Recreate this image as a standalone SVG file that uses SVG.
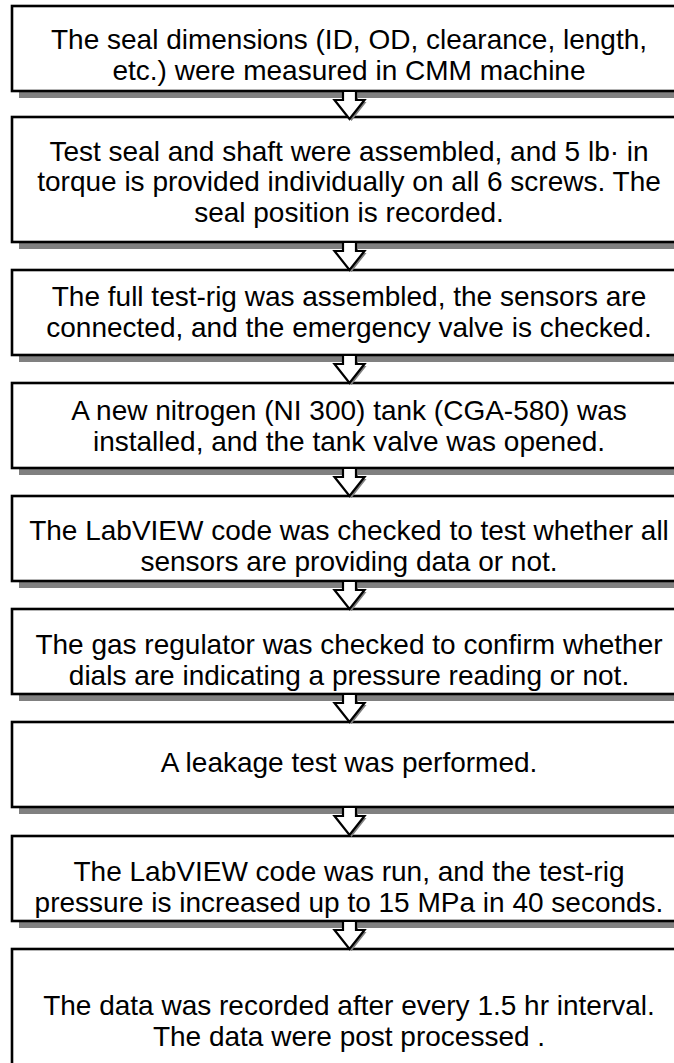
<svg xmlns="http://www.w3.org/2000/svg" width="674" height="1063" viewBox="0 0 674 1063">
  <defs>
    <style>
      .shadow { fill: #808080; }
      .box { fill: #ffffff; stroke: #000000; stroke-width: 2.6; }
      .arrow { fill: #ffffff; stroke: #000000; stroke-width: 2.2; stroke-linejoin: miter; }
      .arrow-shadow { fill: #808080; }
      text { font-family: "Liberation Sans", Arial, sans-serif; font-size: 28px; fill: #000000; text-anchor: middle; }
    </style>
    <!-- hollow down-pointing block arrow, origin at top-centre of shaft -->
    <path id="down" d="M -6.5 0 L 6.5 0 L 6.5 9 L 15 9 L 0 28 L -15 9 L -6.5 9 Z"/>
  </defs>
  <rect width="674" height="1063" fill="#ffffff"/>

  <g id="step1">
    <rect class="shadow" x="19" y="13" width="680" height="85"/>
    <rect class="box" x="12" y="6" width="680" height="85"/>
    <text x="349" y="49">The seal dimensions (ID, OD, clearance, length,</text>
    <text x="349" y="80">etc.) were measured in CMM machine</text>
  </g>

  <g id="step2">
    <rect class="shadow" x="19" y="124" width="680" height="125"/>
    <rect class="box" x="12" y="117" width="680" height="125"/>
    <text x="349" y="161">Test seal and shaft were assembled, and 5 lb· in</text>
    <text x="349" y="191">torque is provided individually on all 6 screws. The</text>
    <text x="349" y="222">seal position is recorded.</text>
  </g>

  <g id="step3">
    <rect class="shadow" x="19" y="277" width="680" height="85"/>
    <rect class="box" x="12" y="270" width="680" height="85"/>
    <text x="349" y="306">The full test-rig was assembled, the sensors are</text>
    <text x="349" y="337">connected, and the emergency valve is checked.</text>
  </g>

  <g id="step4">
    <rect class="shadow" x="19" y="390" width="680" height="85"/>
    <rect class="box" x="12" y="383" width="680" height="85"/>
    <text x="349" y="420">A new nitrogen (NI 300) tank (CGA-580) was</text>
    <text x="349" y="451">installed, and the tank valve was opened.</text>
  </g>

  <g id="step5">
    <rect class="shadow" x="19" y="503" width="680" height="85"/>
    <rect class="box" x="12" y="496" width="680" height="85"/>
    <text x="349" y="540">The LabVIEW code was checked to test whether all</text>
    <text x="349" y="571">sensors are providing data or not.</text>
  </g>

  <g id="step6">
    <rect class="shadow" x="19" y="616" width="680" height="85"/>
    <rect class="box" x="12" y="609" width="680" height="85"/>
    <text x="349" y="654">The gas regulator was checked to confirm whether</text>
    <text x="349" y="685">dials are indicating a pressure reading or not.</text>
  </g>

  <g id="step7">
    <rect class="shadow" x="19" y="729" width="680" height="85"/>
    <rect class="box" x="12" y="722" width="680" height="85"/>
    <text x="349" y="772">A leakage test was performed.</text>
  </g>

  <g id="step8">
    <rect class="shadow" x="19" y="843" width="680" height="85"/>
    <rect class="box" x="12" y="836" width="680" height="85"/>
    <text x="349" y="881">The LabVIEW code was run, and the test-rig</text>
    <text x="349" y="912">pressure is increased up to 15 MPa in 40 seconds.</text>
  </g>

  <g id="step9">
    <rect class="shadow" x="19" y="956" width="680" height="140"/>
    <rect class="box" x="12" y="949" width="680" height="140"/>
    <text x="349" y="1015">The data was recorded after every 1.5 hr interval.</text>
    <text x="349" y="1046">The data were post processed .</text>
  </g>

  <g id="connectors">
    <use href="#down" class="arrow-shadow" x="351.5" y="93"/>
    <use href="#down" class="arrow" x="349.5" y="91"/>
    <use href="#down" class="arrow-shadow" x="351.5" y="244"/>
    <use href="#down" class="arrow" x="349.5" y="242"/>
    <use href="#down" class="arrow-shadow" x="351.5" y="357"/>
    <use href="#down" class="arrow" x="349.5" y="355"/>
    <use href="#down" class="arrow-shadow" x="351.5" y="470"/>
    <use href="#down" class="arrow" x="349.5" y="468"/>
    <use href="#down" class="arrow-shadow" x="351.5" y="583"/>
    <use href="#down" class="arrow" x="349.5" y="581"/>
    <use href="#down" class="arrow-shadow" x="351.5" y="696"/>
    <use href="#down" class="arrow" x="349.5" y="694"/>
    <use href="#down" class="arrow-shadow" x="351.5" y="809"/>
    <use href="#down" class="arrow" x="349.5" y="807"/>
    <use href="#down" class="arrow-shadow" x="351.5" y="923"/>
    <use href="#down" class="arrow" x="349.5" y="921"/>
  </g>
</svg>
